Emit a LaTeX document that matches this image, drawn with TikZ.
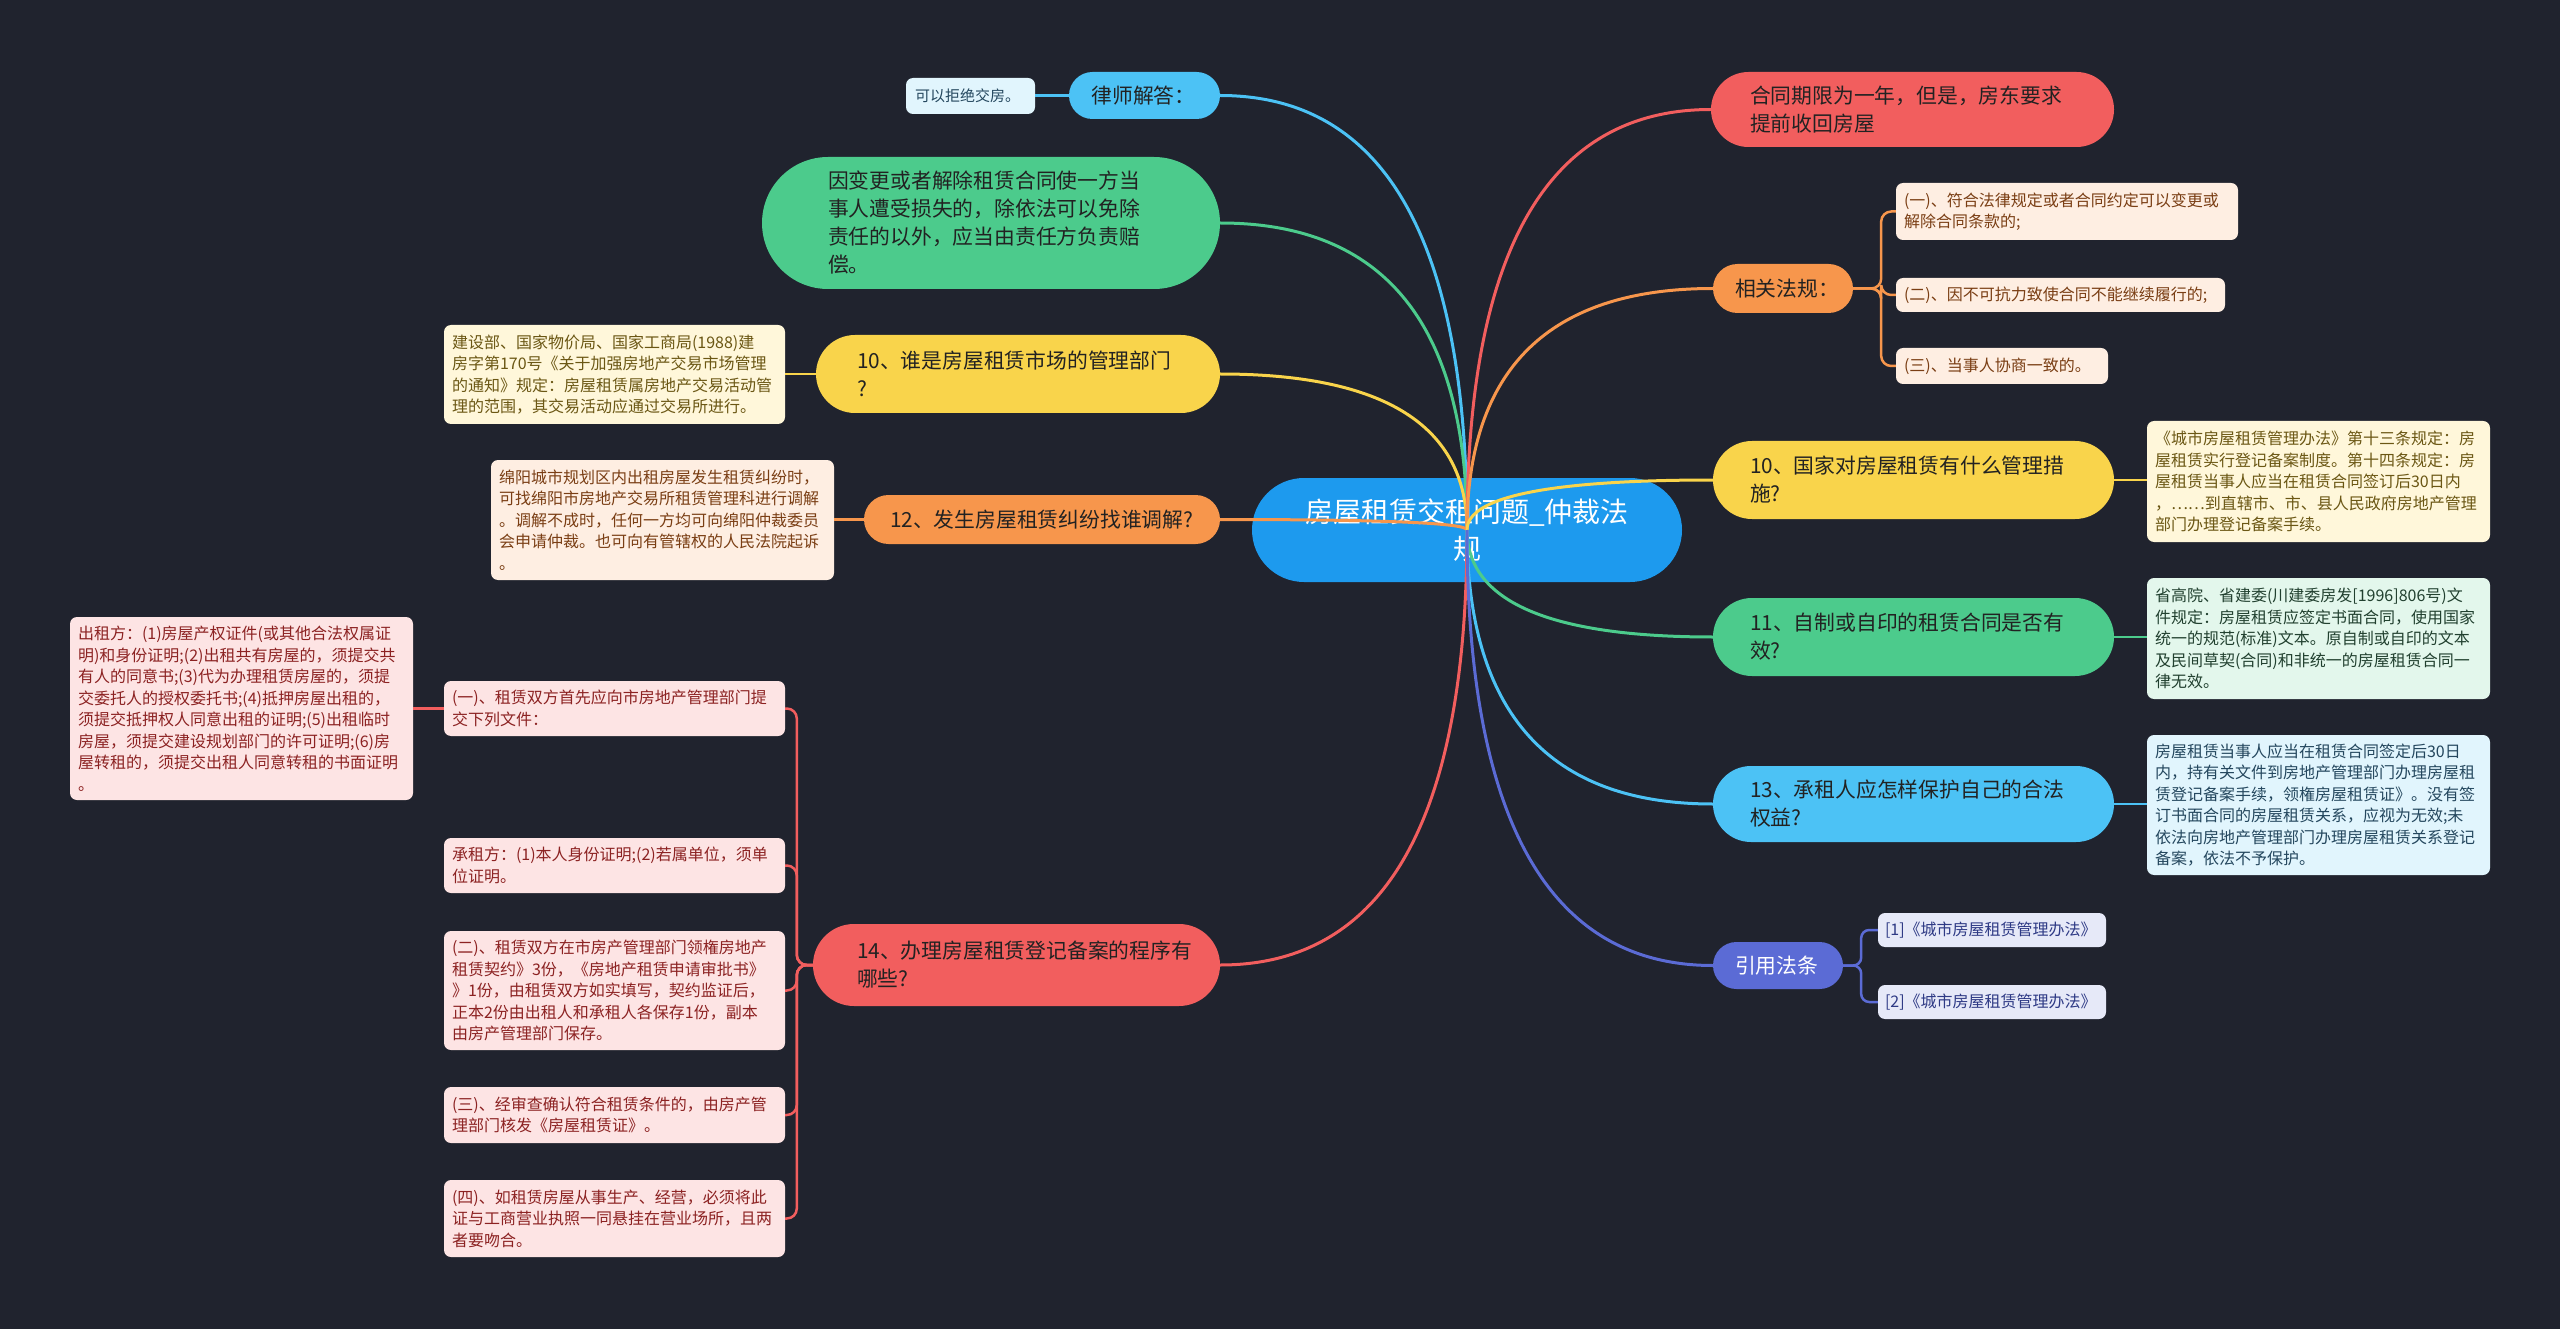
\documentclass[tikz,border=0pt]{standalone}
\usepackage{fontspec}
\setmainfont{Noto Sans CJK SC}
\usetikzlibrary{calc}
\definecolor{bgc}{HTML}{20232E}
\definecolor{rootc}{HTML}{1D9AEE}
\definecolor{pilltext}{HTML}{222222}
\definecolor{cyanB}{HTML}{4CC2F5}
\definecolor{cyanL}{HTML}{E1F5FD}
\definecolor{cyanT}{HTML}{24475E}
\definecolor{greenB}{HTML}{4CCB8C}
\definecolor{greenL}{HTML}{E3F7EC}
\definecolor{greenT}{HTML}{21402F}
\definecolor{yelB}{HTML}{F9D44B}
\definecolor{yelL}{HTML}{FFF7DA}
\definecolor{yelT}{HTML}{6B5714}
\definecolor{oraB}{HTML}{F7964C}
\definecolor{oraL}{HTML}{FEEEE2}
\definecolor{oraT}{HTML}{7A3E14}
\definecolor{redB}{HTML}{F25E5E}
\definecolor{pinkL}{HTML}{FDE4E4}
\definecolor{pinkT}{HTML}{8C2222}
\definecolor{indB}{HTML}{5B6BD5}
\definecolor{indL}{HTML}{E6E9F8}
\definecolor{indT}{HTML}{2E3A85}
\newcommand{\qlink}[3]{\draw[#1] (#2) .. controls ($(#2)!0.667!(#2 |- #3)$) and ($(#3)!0.667!(#2 |- #3)$) .. (#3);}
\begin{document}
\begin{tikzpicture}[x=1pt,y=-1pt,
  pill/.style={rectangle, inner sep=0pt, align=left, text=pilltext, font=\fontsize{20.8}{28}\selectfont},
  dbox/.style={rectangle, rounded corners=7pt, inner sep=0pt, align=left, font=\fontsize{16}{21.5}\selectfont},
  mainln/.style={line width=3pt},
  subln/.style={line width=2.5pt},
]
\fill[bgc] (0,0) rectangle (2560,1329);
\useasboundingbox (0,0) rectangle (2560,1329);

% root
\node[rectangle, fill=rootc, rounded corners=52pt, minimum width=430pt, minimum height=104pt, inner sep=0pt, text width=360pt, align=center, text=white, font=\fontsize{28}{37}\selectfont] (root) at (1467,530) {房屋租赁交租问题\_仲裁法\\规};

% left pills
\node[pill, fill=cyanB, minimum width=151pt, minimum height=47pt, rounded corners=23.5pt, text width=106pt] (Lq) at (1144.5,95.5) {律师解答：};
\node[pill, fill=greenB, minimum width=458pt, minimum height=132pt, rounded corners=66pt, text width=326pt] (Lg) at (991,223) {因变更或者解除租赁合同使一方当\\事人遭受损失的，除依法可以免除\\责任的以外，应当由责任方负责赔\\偿。};
\node[pill, fill=yelB, minimum width=404pt, minimum height=78pt, rounded corners=39pt, text width=322pt] (Ly) at (1018,374) {10、谁是房屋租赁市场的管理部门\\?};
\node[pill, fill=oraB, minimum width=356pt, minimum height=49pt, rounded corners=24.5pt, text width=304pt] (Lo) at (1042,519.5) {12、发生房屋租赁纠纷找谁调解?};
\node[pill, fill=redB, minimum width=407pt, minimum height=82pt, rounded corners=41pt, text width=319pt] (Lr) at (1016.5,965) {14、办理房屋租赁登记备案的程序有\\哪些?};

% right pills
\node[pill, fill=redB, minimum width=403pt, minimum height=75pt, rounded corners=37.5pt, text width=325pt] (Rr) at (1912.5,109.5) {合同期限为一年，但是，房东要求\\提前收回房屋};
\node[pill, fill=oraB, minimum width=140pt, minimum height=49pt, rounded corners=24.5pt, text width=96pt] (Ro) at (1783,288.5) {相关法规：};
\node[pill, fill=yelB, minimum width=401pt, minimum height=78pt, rounded corners=39pt, text width=327pt] (Ry) at (1913.5,480) {10、国家对房屋租赁有什么管理措\\施?};
\node[pill, fill=greenB, minimum width=401pt, minimum height=78pt, rounded corners=39pt, text width=327pt] (Rg) at (1913.5,637) {11、自制或自印的租赁合同是否有\\效?};
\node[pill, fill=cyanB, minimum width=401pt, minimum height=76pt, rounded corners=38pt, text width=327pt] (Rc) at (1913.5,804) {13、承租人应怎样保护自己的合法\\权益?};
\node[pill, fill=indB, text=white, minimum width=130pt, minimum height=47pt, rounded corners=23.5pt, text width=86pt] (Ri) at (1778,965.5) {引用法条};

% left details
\node[dbox, fill=cyanL, text=cyanT, minimum width=129pt, minimum height=36pt, text width=111pt, font=\fontsize{15}{20}\selectfont] (dq) at (970.5,96) {可以拒绝交房。};
\node[dbox, fill=yelL, text=yelT, minimum width=341pt, minimum height=99pt, text width=325pt] (dy) at (614.5,374.5) {建设部、国家物价局、国家工商局(1988)建\\房字第170号《关于加强房地产交易市场管理\\的通知》规定：房屋租赁属房地产交易活动管\\理的范围，其交易活动应通过交易所进行。};
\node[dbox, fill=oraL, text=oraT, minimum width=343pt, minimum height=120pt, text width=327pt] (dO) at (662.5,520) {绵阳城市规划区内出租房屋发生租赁纠纷时，\\可找绵阳市房地产交易所租赁管理科进行调解\\。调解不成时，任何一方均可向绵阳仲裁委员\\会申请仲裁。也可向有管辖权的人民法院起诉\\。};
\node[dbox, fill=pinkL, text=pinkT, minimum width=341pt, minimum height=55pt, text width=325pt] (c1) at (614.5,708.5) {(一)、租赁双方首先应向市房地产管理部门提\\交下列文件：};
\node[dbox, fill=pinkL, text=pinkT, minimum width=341pt, minimum height=55pt, text width=325pt] (c2) at (614.5,865.5) {承租方：(1)本人身份证明;(2)若属单位，须单\\位证明。};
\node[dbox, fill=pinkL, text=pinkT, minimum width=341pt, minimum height=119pt, text width=325pt] (c3) at (614.5,990.5) {(二)、租赁双方在市房产管理部门领権房地产\\租赁契约》3份，《房地产租赁申请审批书》\\》1份，由租赁双方如实填写，契约监证后，\\正本2份由出租人和承租人各保存1份，副本\\由房产管理部门保存。};
\node[dbox, fill=pinkL, text=pinkT, minimum width=341pt, minimum height=56pt, text width=325pt] (c4) at (614.5,1115) {(三)、经审查确认符合租赁条件的，由房产管\\理部门核发《房屋租赁证》。};
\node[dbox, fill=pinkL, text=pinkT, minimum width=341pt, minimum height=77pt, text width=325pt] (c5) at (614.5,1218.5) {(四)、如租赁房屋从事生产、经营，必须将此\\证与工商营业执照一同悬挂在营业场所，且两\\者要吻合。};
\node[dbox, fill=pinkL, text=pinkT, minimum width=343pt, minimum height=183pt, text width=327pt] (c0) at (241.5,708.5) {出租方：(1)房屋产权证件(或其他合法权属证\\明)和身份证明;(2)出租共有房屋的，须提交共\\有人的同意书;(3)代为办理租赁房屋的，须提\\交委托人的授权委托书;(4)抵押房屋出租的，\\须提交抵押权人同意出租的证明;(5)出租临时\\房屋，须提交建设规划部门的许可证明;(6)房\\屋转租的，须提交出租人同意转租的书面证明\\。};

% right details
\node[dbox, fill=oraL, text=oraT, minimum width=342pt, minimum height=57pt, text width=326pt] (rc1) at (2067,211.5) {(一)、符合法律规定或者合同约定可以变更或\\解除合同条款的;};
\node[dbox, fill=oraL, text=oraT, minimum width=329pt, minimum height=34pt, text width=313pt] (rc2) at (2060.5,295) {(二)、因不可抗力致使合同不能继续履行的;};
\node[dbox, fill=oraL, text=oraT, minimum width=212pt, minimum height=36pt, text width=196pt] (rc3) at (2002,366) {(三)、当事人协商一致的。};
\node[dbox, fill=yelL, text=yelT, minimum width=343pt, minimum height=121pt, text width=327pt] (dyR) at (2318.5,481.5) {《城市房屋租赁管理办法》第十三条规定：房\\屋租赁实行登记备案制度。第十四条规定：房\\屋租赁当事人应当在租赁合同签订后30日内\\，……到直辖市、市、县人民政府房地产管理\\部门办理登记备案手续。};
\node[dbox, fill=greenL, text=greenT, minimum width=343pt, minimum height=121pt, text width=327pt] (dgR) at (2318.5,638.5) {省高院、省建委(川建委房发[1996]806号)文\\件规定：房屋租赁应签定书面合同，使用国家\\统一的规范(标准)文本。原自制或自印的文本\\及民间草契(合同)和非统一的房屋租赁合同一\\律无效。};
\node[dbox, fill=cyanL, text=cyanT, minimum width=343pt, minimum height=140pt, text width=327pt] (dcR) at (2318.5,805) {房屋租赁当事人应当在租赁合同签定后30日\\内，持有关文件到房地产管理部门办理房屋租\\赁登记备案手续，领権房屋租赁证》。没有签\\订书面合同的房屋租赁关系，应视为无效;未\\依法向房地产管理部门办理房屋租赁关系登记\\备案，依法不予保护。};
\node[dbox, fill=indL, text=indT, minimum width=228pt, minimum height=34pt, text width=214pt] (ref1) at (1992,930) {[1]《城市房屋租赁管理办法》};
\node[dbox, fill=indL, text=indT, minimum width=228pt, minimum height=34pt, text width=214pt] (ref2) at (1992,1002) {[2]《城市房屋租赁管理办法》};

% main links
\qlink{cyanB,mainln}{root.center}{Lq.east}
\qlink{greenB,mainln}{root.center}{Lg.east}
\qlink{yelB,mainln}{root.center}{Ly.east}
\qlink{oraB,mainln}{root.center}{Lo.east}
\qlink{redB,mainln}{root.center}{Lr.east}
\qlink{redB,mainln}{root.center}{Rr.west}
\qlink{oraB,mainln}{root.center}{Ro.west}
\qlink{yelB,mainln}{root.center}{Ry.west}
\qlink{greenB,mainln}{root.center}{Rg.west}
\qlink{cyanB,mainln}{root.center}{Rc.west}
\qlink{indB,mainln}{root.center}{Ri.west}

% sub links
\draw[cyanB,subln] (Lq.west) -- (Lq.west -| dq.east);
\draw[yelB,subln] (Ly.west) -- (Ly.west -| dy.east);
\draw[oraB,subln] (Lo.west) -- (Lo.west -| dO.east);
\foreach \c in {c1,c2,c3,c4,c5}{
  \draw[redB,subln,rounded corners=10pt] (Lr.west) -- ++(-16,0) |- (\c.east);
}
\draw[redB,subln] (c1.west) -- (c1.west -| c0.east);
\foreach \c in {rc1,rc2,rc3}{
  \draw[oraB,subln,rounded corners=10pt] (Ro.east) -- ++(28,0) |- (\c.west);
}
\draw[yelB,subln] (Ry.east) -- (Ry.east -| dyR.west);
\draw[greenB,subln] (Rg.east) -- (Rg.east -| dgR.west);
\draw[cyanB,subln] (Rc.east) -- (Rc.east -| dcR.west);
\foreach \c in {ref1,ref2}{
  \draw[indB,subln,rounded corners=8pt] (Ri.east) -- ++(18,0) |- (\c.west);
}
\end{tikzpicture}
\end{document}
